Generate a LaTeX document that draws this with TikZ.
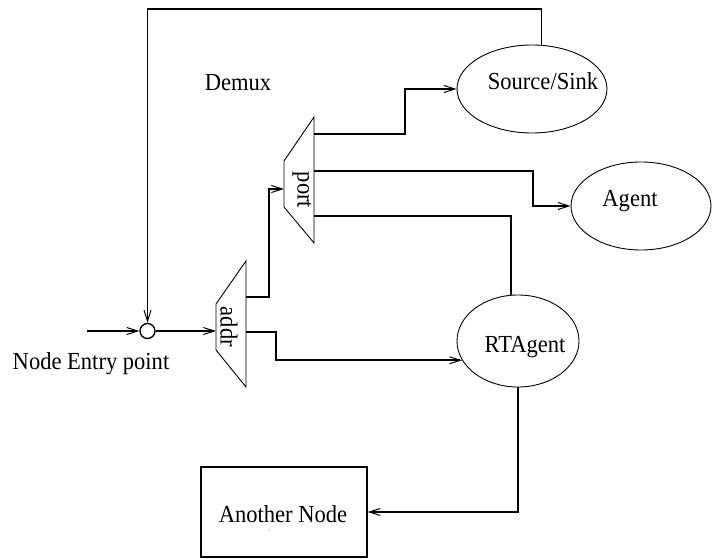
\documentclass[tikz,border=0pt]{standalone}
\usepackage{fontspec}
\setmainfont{Liberation Serif}[FakeStretch=0.92]
\usetikzlibrary{shapes.geometric,arrows.meta}
\begin{document}
\begin{tikzpicture}[x=1pt,y=-1pt,
  wire/.style={line width=1.6pt},
  arr/.style={wire,-{Straight Barb[length=11pt,width=7pt,line width=1pt]}},
  blob/.style={ellipse,draw,line width=0.9pt,inner sep=0pt},
  lbl/.style={font=\fontsize{24.5}{28}\selectfont,inner sep=0pt,anchor=base},
  demux/.style={draw,line width=0.9pt}]
\useasboundingbox (0,0) rectangle (712,559);

% agents and endpoints
\node[blob,minimum width=150pt,minimum height=88pt] (ss) at (532,89) {};
\node[blob,minimum width=140pt,minimum height=88pt] (ag) at (641,206) {};
\node[blob,minimum width=122pt,minimum height=92pt] (rt) at (518,341) {};
\node[draw,line width=1.2pt,minimum width=166pt,minimum height=90pt,inner sep=0pt] (an) at (284,512) {};
\node[circle,draw,line width=1.3pt,minimum size=15pt,inner sep=0pt] (junc) at (147.5,331) {};

% address and port classifiers
\draw[demux] (216,304) -- (246,261) -- (246,387) -- (216,350) -- cycle;
\draw[demux] (284,161) -- (314,117) -- (314,243) -- (284,207) -- cycle;
\coordinate (addrIn) at (216,331);
\coordinate (addrOutA) at (246,297);
\coordinate (addrOutB) at (246,332);
\coordinate (portIn) at (284,189);
\coordinate (portOutA) at (314,134);
\coordinate (portOutB) at (314,171);
\coordinate (portOutC) at (314,216);
\coordinate (entry) at (87,331);
\coordinate (topL) at (147.5,9);

% labels
\node[lbl,rotate=-90,anchor=center] (addrlbl) at (229,327) {addr};
\node[lbl,rotate=-90,anchor=center] (portlbl) at (302,190) {port};
\node[lbl] (sslbl) at (543,90) {Source/Sink};
\node[lbl] (aglbl) at (630,206) {Agent};
\node[lbl] (rtlbl) at (525,352) {RTAgent};
\node[lbl] (demuxlbl) at (238,91) {Demux};
\node[lbl] (anlbl) at (283,522) {Another Node};
\node[lbl] (entrylbl) at (91,369) {Node Entry point};
\fill[gray] (269,530) circle (0.6pt);

% connectors
\draw[arr] (entry) -- (junc);
\draw[arr] (junc) -- (addrIn);
\draw[arr] (addrOutA) -- (269,297) |- (portIn);
\draw[arr] (addrOutB) -- (276,332) |- (rt.199);
\draw[arr] (portOutA) -- (405,134) |- (ss.west);
\draw[arr] (portOutB) -- (533,171) |- (ag.west);
\draw[wire] (portOutC) -| (rt.99);
\draw[arr] (rt.south) |- (an.east);
\draw[arr] (ss.78) |- (topL) -- (junc);
\end{tikzpicture}
\end{document}
